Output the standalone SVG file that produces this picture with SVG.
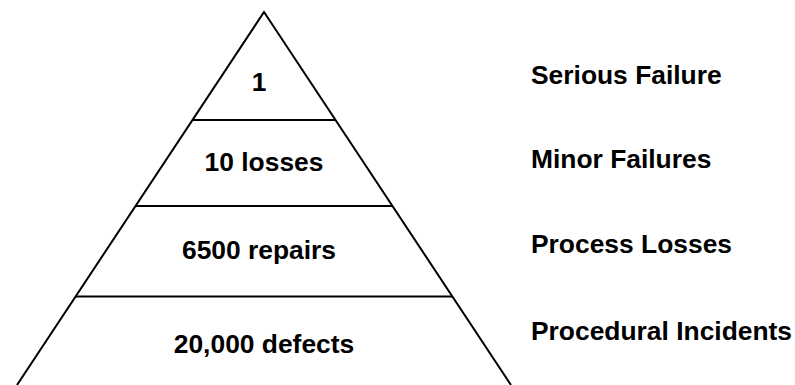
<svg xmlns="http://www.w3.org/2000/svg" width="795" height="385" viewBox="0 0 795 385">
<style>
.ln{stroke:#000;stroke-width:2;fill:none}
.t{font-family:"Liberation Sans",Arial,sans-serif;font-weight:bold;font-size:26.4px;fill:#000}
.c{text-anchor:middle}
</style>
<rect width="795" height="385" fill="#fff"/>
<g id="connectors">
<path class="ln" d="M17,385 L264,12 L511,385"/>
<line class="ln" x1="192.5" y1="120" x2="335.5" y2="120"/>
<line class="ln" x1="135.5" y1="206" x2="392.5" y2="206"/>
<line class="ln" x1="76" y1="296.5" x2="452" y2="296.5"/>
</g>
<g id="level1"><text class="t c" x="259" y="90.5">1</text></g>
<g id="level2"><text class="t c" x="264" y="170.5">10 losses</text></g>
<g id="level3"><text class="t c" x="259" y="259">6500 repairs</text></g>
<g id="level4"><text class="t c" x="264" y="353">20,000 defects</text></g>
<g id="label1"><text class="t" x="531" y="84">Serious Failure</text></g>
<g id="label2"><text class="t" x="531" y="168">Minor Failures</text></g>
<g id="label3"><text class="t" x="531" y="253">Process Losses</text></g>
<g id="label4"><text class="t" x="531" y="340">Procedural Incidents</text></g>
</svg>
